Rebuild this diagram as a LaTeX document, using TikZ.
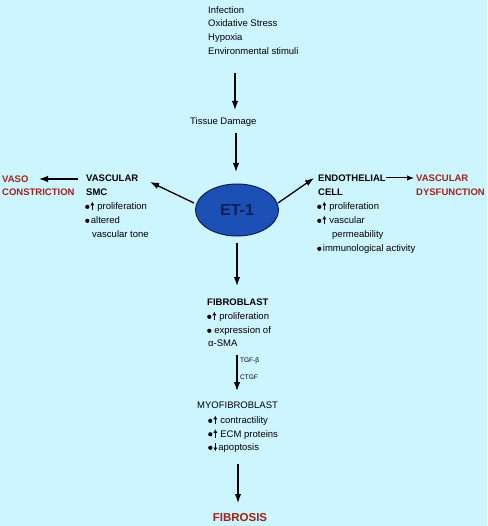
\documentclass[tikz,border=0pt]{standalone}
\usepackage{fontspec}
\setmainfont{Liberation Sans}
\usetikzlibrary{arrows.meta,shapes.geometric}
\definecolor{bg}{RGB}{205,245,255}
\definecolor{dred}{RGB}{160,35,25}
\definecolor{etfill}{RGB}{28,80,180}
\definecolor{etdraw}{RGB}{12,30,85}
\newcommand\bulup{\tikz[x=1pt,y=1pt,baseline=0pt]{\fill (2,2.7) circle (2.1);\draw[line width=1.3pt,-{Latex[length=3.6pt,width=4.2pt]}] (7,-0.6) -- (7,7.8);}\hspace{3pt}}
\newcommand\buldn{\tikz[x=1pt,y=1pt,baseline=0pt]{\fill (2,2.7) circle (2.1);\draw[line width=1.3pt,-{Latex[length=3.6pt,width=4.2pt]}] (7,7.8) -- (7,-0.6);}\hspace{1pt}}
\newcommand\bulonly{\tikz[x=1pt,y=1pt,baseline=0pt]{\fill (2,2.7) circle (2.1);}\hspace{1.5pt}}
\begin{document}
\begin{tikzpicture}[x=1pt,y=-1pt,
  txt/.style={anchor=base west,inner sep=0pt,font=\fontsize{9.5}{11}\selectfont},
  hd/.style={anchor=base west,inner sep=0pt,font=\fontsize{9.5}{11}\selectfont\bfseries},
  redhd/.style={hd,text=dred},
  small/.style={anchor=base west,inner sep=0pt,font=\fontsize{6.5}{8}\selectfont},
  arr/.style={line width=1.3pt,-{Latex[length=9pt,width=6.5pt]}}]
\fill[bg] (0,0) rectangle (487,526);
\useasboundingbox (0,0) rectangle (487,526);
% top stimuli
\node[txt] (s1) at (208,13.5) {Infection};
\node[txt] (s2) at (208,27) {Oxidative Stress};
\node[txt] (s3) at (208,40.5) {Hypoxia};
\node[txt] (s4) at (208,54.5) {Environmental stimuli};
\node[txt] (tissue) at (190,124.5) {Tissue Damage};
% ET-1
\node[ellipse,draw=etdraw,line width=1pt,fill=etfill,minimum width=83pt,minimum height=52pt,inner sep=0pt,
  font=\fontsize{16}{18}\selectfont\bfseries,text=etdraw] (et) at (237,210) {ET-1};
% left branch
\node[hd] (smc1) at (86,181.5) {VASCULAR};
\node[hd] (smc2) at (86,195.5) {SMC};
\node[txt] (smc3) at (85,209.5) {\bulup proliferation};
\node[txt] (smc4) at (85,223.5) {\bulonly altered};
\node[txt] (smc5) at (92,237) {vascular tone};
\node[redhd] (vaso1) at (2,182.5) {VASO};
\node[redhd] (vaso2) at (2,196) {CONSTRICTION};
% right branch
\node[hd] (endo1) at (318,181.5) {ENDOTHELIAL};
\node[hd] (endo2) at (318,195.5) {CELL};
\node[txt] (endo3) at (317,209.5) {\bulup proliferation};
\node[txt] (endo4) at (317,223.5) {\bulup vascular};
\node[txt] (endo5) at (332,237) {permeability};
\node[txt] (endo6) at (317,251.5) {\bulonly immunological activity};
\node[redhd] (vd1) at (416,181.5) {VASCULAR};
\node[redhd] (vd2) at (416,195.5) {DYSFUNCTION};
% fibroblast
\node[hd] (fib1) at (207,305.5) {FIBROBLAST};
\node[txt] (fib2) at (207,319.5) {\bulup proliferation};
\node[txt] (fib3) at (207,333.5) {\bulonly\hspace{1.5pt}expression of};
\node[txt] (fib4) at (208,346) {α-SMA};
\node[small] (tgf) at (240,362) {TGF-β};
\node[small] (ctgf) at (240,379) {CTGF};
% myofibroblast
\node[txt] (myo1) at (197,408.5) {MYOFIBROBLAST};
\node[txt] (myo2) at (208,423.5) {\bulup contractility};
\node[txt] (myo3) at (208,437) {\bulup ECM proteins};
\node[txt] (myo4) at (208,450.5) {\buldn apoptosis};
\node[anchor=base,inner sep=0pt,font=\fontsize{11.5}{13}\selectfont\bfseries,text=dred] (fibrosis) at (240,521) {FIBROSIS};
% arrow end points
\coordinate (a1s) at (235,73);   \coordinate (a1e) at (235,110);
\coordinate (a2s) at (236,133);  \coordinate (a2e) at (236,172);
\coordinate (a3s) at (194,203);  \coordinate (a3e) at (150,182);
\coordinate (a4s) at (78,179);   \coordinate (a4e) at (39,179);
\coordinate (a5s) at (278,203);  \coordinate (a5e) at (314,178);
\coordinate (a6s) at (386,178);  \coordinate (a6e) at (414,178);
\coordinate (a7s) at (237,243);  \coordinate (a7e) at (237,286);
\coordinate (a8s) at (237,355);  \coordinate (a8e) at (237,391);
\coordinate (a9s) at (238,464);  \coordinate (a9e) at (238,503);
\draw[arr] (a1s) -- (a1e);
\draw[arr] (a2s) -- (a2e);
\draw[arr] (a3s) -- (a3e);
\draw[arr] (a4s) -- (a4e);
\draw[arr] (a5s) -- (a5e);
\draw[arr,line width=1pt,-{Latex[length=7pt,width=5.5pt]}] (a6s) -- (a6e);
\draw[arr] (a7s) -- (a7e);
\draw[arr,line width=1.1pt] (a8s) -- (a8e);
\draw[arr] (a9s) -- (a9e);
\end{tikzpicture}
\end{document}
